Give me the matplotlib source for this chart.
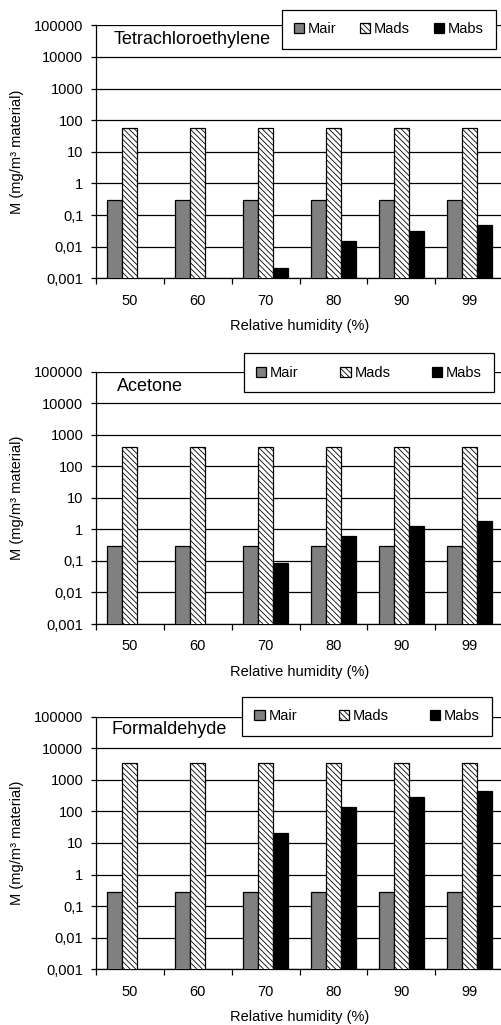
import numpy as np
import matplotlib
matplotlib.use('Agg')
import matplotlib.pyplot as plt
from matplotlib.ticker import FixedLocator, NullLocator

plt.rcParams['font.family'] = ['Liberation Sans', 'DejaVu Sans']
plt.rcParams['hatch.linewidth'] = 0.6

# Relative humidity categories
rh_labels = ['50', '60', '70', '80', '90', '99']
series_names = ['Mair', 'Mads', 'Mabs']

# Tetrachloroethylene (mg/m3 material)
tetra_mair = [0.29, 0.29, 0.29, 0.29, 0.29, 0.29]
tetra_mads = [57, 57, 57, 57, 57, 57]
tetra_mabs = [np.nan, np.nan, 0.0021, 0.0155, 0.032, 0.047]

# Acetone
acet_mair = [0.29, 0.29, 0.29, 0.29, 0.29, 0.29]
acet_mads = [420, 420, 420, 420, 420, 420]
acet_mabs = [np.nan, np.nan, 0.086, 0.6, 1.24, 1.9]

# Formaldehyde
form_mair = [0.29, 0.29, 0.29, 0.29, 0.29, 0.29]
form_mads = [3300, 3300, 3300, 3300, 3300, 3300]
form_mabs = [np.nan, np.nan, 20, 140, 290, 440]

y_ticks = [1e-3, 1e-2, 1e-1, 1, 10, 100, 1000, 10000, 100000]
y_ticklabels = ['0,001', '0,01', '0,1', '1', '10', '100', '1000', '10000', '100000']

W, H = 501, 1025
fig = plt.figure(figsize=(W / 100, H / 100), dpi=100)

# pixel geometry of each panel: (top, bottom, title x, title y, legend box)
panels = [
    ('Tetrachloroethylene', tetra_mair, tetra_mads, tetra_mabs,
     25.3, 278.3, 113.3, 40.0, (281.7, 10.3, 495.7, 48.3)),
    ('Acetone', acet_mair, acet_mads, acet_mabs,
     371.7, 624.0, 116.7, 386.7, (243.7, 354.0, 494.3, 391.7)),
    ('Formaldehyde', form_mair, form_mads, form_mabs,
     716.7, 969.3, 111.7, 730.0, (242.0, 697.3, 492.3, 735.0)),
]

left_px, right_px = 95.7, 503.3
fs = 10.5
bw = 0.223
fills = ['#808080', 'white', 'black']
hatches = [None, '\\' * 6, None]

for name, mair, mads, mabs, top, bot, tx, ty, leg in panels:
    ax = fig.add_axes([left_px / W, 1 - bot / H, (right_px - left_px) / W, (bot - top) / H])
    x = np.arange(len(rh_labels))
    for i, vals in enumerate([mair, mads, mabs]):
        ax.bar(x + (i - 1) * bw, vals, width=bw, color=fills[i], hatch=hatches[i],
               edgecolor='black', linewidth=0.9, label=series_names[i], zorder=3)

    ax.set_yscale('log')
    ax.set_ylim(1e-3, 1e5)
    ax.set_xlim(-0.5, len(rh_labels) - 0.5)
    ax.yaxis.set_major_locator(FixedLocator(y_ticks))
    ax.yaxis.set_minor_locator(NullLocator())
    ax.set_yticklabels(y_ticklabels, fontsize=fs)
    ax.yaxis.grid(True, color='black', linewidth=0.9)
    ax.set_axisbelow(True)

    # boundaries as ticks, labels at the centres
    ax.set_xticks(np.arange(len(rh_labels) + 1) - 0.5)
    ax.set_xticklabels([])
    ax.set_xticks(x, minor=True)
    ax.set_xticklabels(rh_labels, minor=True, fontsize=fs)
    ax.tick_params(axis='x', which='major', length=4.2, width=0.9)
    ax.tick_params(axis='x', which='minor', length=0, pad=11)
    ax.tick_params(axis='y', length=3.6, width=0.9, pad=5.3)

    for s in ['top', 'right']:
        ax.spines[s].set_visible(False)
    ax.spines['left'].set_linewidth(0.9)
    ax.spines['bottom'].set_linewidth(0.9)

    ax.set_ylabel('M (mg/m³ material)', fontsize=fs)
    ax.yaxis.set_label_coords((17 - left_px) / (right_px - left_px), 0.5)
    ax.yaxis.label.set_va('center')
    ax.set_xlabel('Relative humidity (%)', fontsize=fs)
    ax.xaxis.set_label_coords(0.5, -48.0 / (bot - top))
    ax.xaxis.label.set_va('center')

    ax.text((tx - left_px) / (right_px - left_px), (bot - ty) / (bot - top), name,
            transform=ax.transAxes, fontsize=13, ha='left', va='center')

    lx0, ly0, lx1, ly1 = leg
    lg = ax.legend(loc='center', ncol=3, mode='expand', fontsize=fs,
                   bbox_to_anchor=(lx0 / W, 1 - ly1 / H, (lx1 - lx0) / W, (ly1 - ly0) / H),
                   bbox_transform=fig.transFigure, borderaxespad=0, borderpad=0.85,
                   handlelength=0.7, handleheight=0.7, handletextpad=0.25,
                   fancybox=False, framealpha=1, edgecolor='black')
    lg.get_frame().set_linewidth(0.9)

plt.savefig('out.png', dpi=100)
